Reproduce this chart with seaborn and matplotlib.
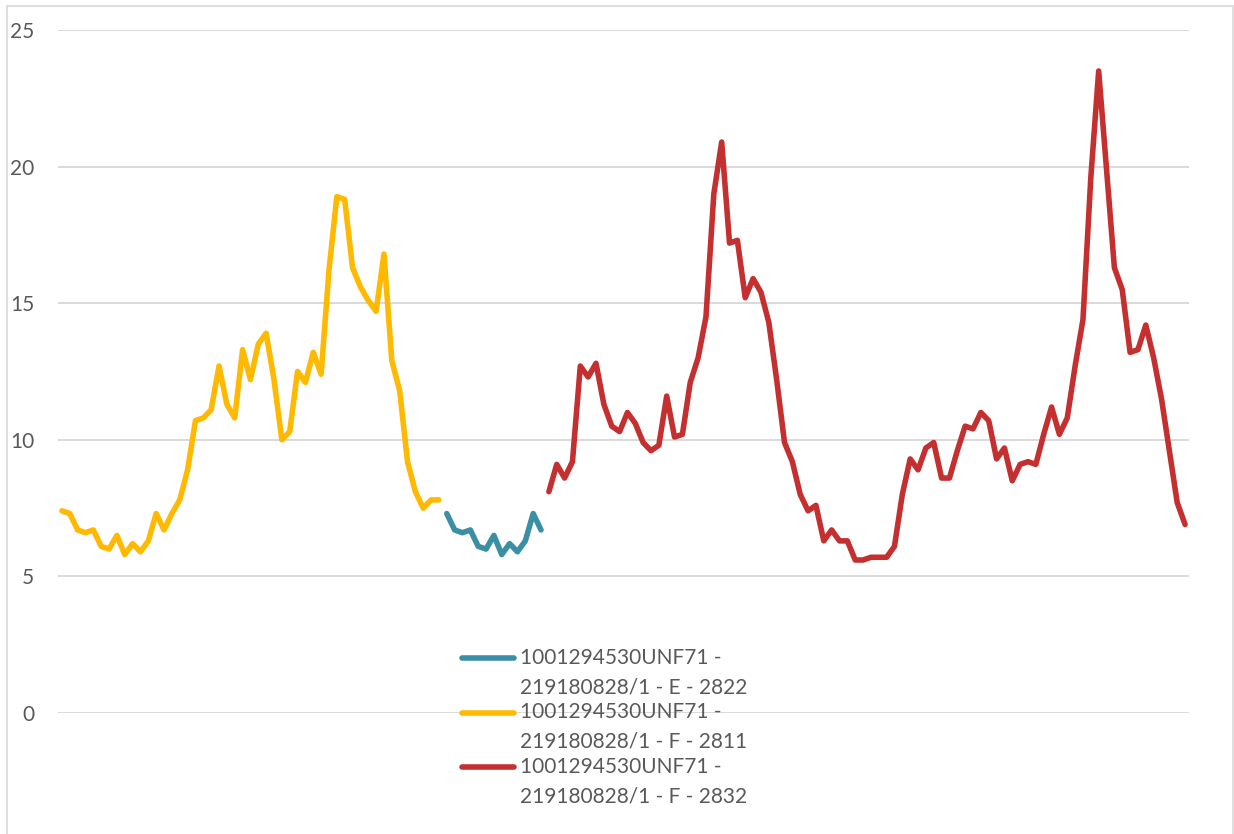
import numpy as np
import pandas as pd
import matplotlib
matplotlib.use("Agg")
import matplotlib.pyplot as plt
from matplotlib.lines import Line2D
import seaborn as sns

# series values, in category order (yellow first, then teal, then red)
yellow_vals = [7.4, 7.3, 6.7, 6.6, 6.7, 6.1, 6.0, 6.5, 5.8, 6.2,
               5.9, 6.3, 7.3, 6.7, 7.3, 7.8, 8.9, 10.7, 10.8, 11.1,
               12.7, 11.3, 10.8, 13.3, 12.2, 13.5, 13.9, 12.2, 10.0, 10.3,
               12.5, 12.1, 13.2, 12.4, 16.2, 18.9, 18.8, 16.3, 15.6, 15.1,
               14.7, 16.8, 12.9, 11.8, 9.2, 8.1, 7.5, 7.8, 7.8]
teal_vals = [7.3, 6.7, 6.6, 6.7, 6.1, 6.0, 6.5, 5.8, 6.2, 5.9, 6.3, 7.3, 6.7]
red_vals = [8.1, 9.1, 8.6, 9.2, 12.7, 12.3, 12.8, 11.3, 10.5, 10.3,
            11.0, 10.6, 9.9, 9.6, 9.8, 11.6, 10.1, 10.2, 12.1, 13.0,
            14.5, 19.0, 20.9, 17.2, 17.3, 15.2, 15.9, 15.4, 14.3, 12.2,
            9.9, 9.2, 8.0, 7.4, 7.6, 6.3, 6.7, 6.3, 6.3, 5.6,
            5.6, 5.7, 5.7, 5.7, 6.1, 8.0, 9.3, 8.9, 9.7, 9.9,
            8.6, 8.6, 9.6, 10.5, 10.4, 11.0, 10.7, 9.3, 9.7, 8.5,
            9.1, 9.2, 9.1, 10.2, 11.2, 10.2, 10.8, 12.7, 14.4, 19.6,
            23.5, 19.9, 16.3, 15.5, 13.2, 13.3, 14.2, 13.0, 11.5, 9.6,
            7.7, 6.9]

name_teal = "1001294530UNF71 -\n219180828/1 - E - 2822"
name_yellow = "1001294530UNF71 -\n219180828/1 - F - 2811"
name_red = "1001294530UNF71 -\n219180828/1 - F - 2832"

y_ticks = [0, 5, 10, 15, 20, 25]

colors = {name_teal: "#3A8FA5", name_yellow: "#FFB900", name_red: "#C42F30"}
legend_order = [name_teal, name_yellow, name_red]

# build a long table, each series continues on the category axis
frames = []
start = 0
for name, vals in [(name_yellow, yellow_vals), (name_teal, teal_vals), (name_red, red_vals)]:
    frames.append(pd.DataFrame({"x": np.arange(start, start + len(vals)),
                                "value": vals, "series": name}))
    start += len(vals)
df = pd.concat(frames, ignore_index=True)
n_cat = start

sns.set_theme(style="white")
plt.rcParams["font.family"] = ["Lato", "DejaVu Sans"]

fig = plt.figure(figsize=(12.34, 8.34), dpi=100)
ax = fig.add_axes([58 / 1234, 1 - 713 / 834, (1189 - 58) / 1234, (713 - 30) / 834])

sns.lineplot(data=df, x="x", y="value", hue="series", palette=colors,
             linewidth=4.0, legend=False, ax=ax, solid_capstyle="round",
             solid_joinstyle="round")

ax.set_xlim(-0.5, n_cat - 0.5)
ax.set_ylim(0, 25)
ax.set_yticks(y_ticks)
ax.set_xticks([])
ax.set_xlabel("")
ax.set_ylabel("")
ax.yaxis.grid(True, color="#D9D9D9", linewidth=1.4)
ax.set_axisbelow(True)
for s in ax.spines.values():
    s.set_visible(False)
ax.tick_params(axis="y", length=0, pad=17, labelsize=15, labelcolor="#595959")
ax.patch.set_alpha(0)

# manual legend: handle lines up with the first line of each wrapped label
y0 = 1 - 658 / 834
dy_entry = 54.5 / 834
dy_line = 29.5 / 834
for i, name in enumerate(legend_order):
    yy = y0 - i * dy_entry
    fig.add_artist(Line2D([462 / 1234, 514 / 1234], [yy, yy], color=colors[name],
                          linewidth=4.0, solid_capstyle="round"))
    for j, line in enumerate(name.split("\n")):
        fig.text(520 / 1234, yy - j * dy_line, line, fontsize=15,
                 color="#595959", va="center", ha="left")

# chart area border (bottom edge is cropped in the reference)
bc = "#D9D9D9"
fig.add_artist(Line2D([7 / 1234, 7 / 1234], [0, 1 - 6 / 834], color=bc, linewidth=1.2))
fig.add_artist(Line2D([7 / 1234, 1233 / 1234], [1 - 6 / 834, 1 - 6 / 834], color=bc, linewidth=1.2))
fig.add_artist(Line2D([1233 / 1234, 1233 / 1234], [0, 1 - 6 / 834], color=bc, linewidth=1.2))

fig.savefig("out.png", dpi=100, facecolor="white")
